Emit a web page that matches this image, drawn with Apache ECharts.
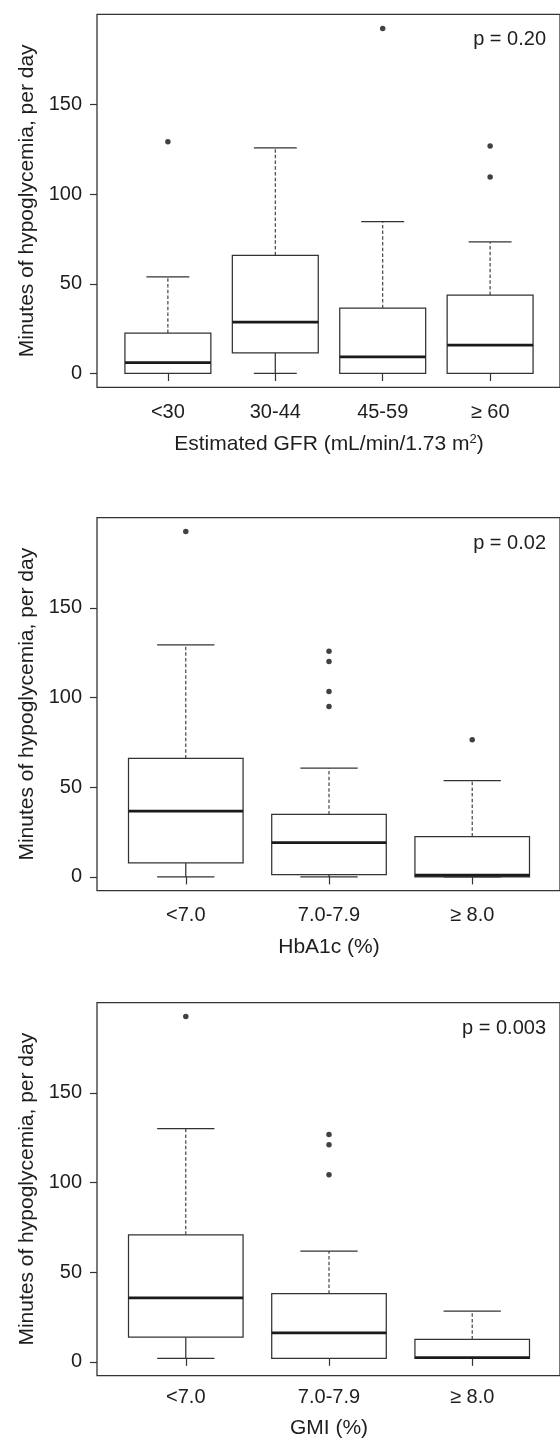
<!DOCTYPE html>
<html><head><meta charset="utf-8">
<script src="https://cdn.jsdelivr.net/npm/echarts@6/dist/echarts.min.js"></script>
<style>html,body{margin:0;padding:0;background:#fff}#c{width:560px;height:1440px}</style>
</head><body><div id="c"></div>
<script>
// ---------- data ----------
const gfrCategories = ['<30', '30-44', '45-59', '\u2265 60'];
const gfrLower  = [0, 0, 0, 0];
const gfrQ1     = [0, 11.5, 0, 0];
const gfrMedian = [6.1, 28.6, 9.3, 15.8];
const gfrQ3     = [22.5, 65.9, 36.4, 43.7];
const gfrUpper  = [53.9, 125.7, 84.7, 73.3];
const gfrOutlierCat = ['<30', '45-59', '\u2265 60', '\u2265 60'];
const gfrOutlierVal = [129.2, 192.3, 126.8, 109.5];

const hbaCategories = ['<7.0', '7.0-7.9', '\u2265 8.0'];
const hbaLower  = [0, 0, 0];
const hbaQ1     = [7.8, 1.3, 0];
const hbaMedian = [36.6, 19.1, 0.9];
const hbaQ3     = [66.0, 34.8, 22.5];
const hbaUpper  = [129.3, 60.6, 53.7];
const hbaOutlierCat = ['<7.0', '7.0-7.9', '7.0-7.9', '7.0-7.9', '7.0-7.9', '\u2265 8.0'];
const hbaOutlierVal = [192.5, 125.8, 120.1, 103.3, 95.0, 76.4];

const gmiCategories = ['<7.0', '7.0-7.9', '\u2265 8.0'];
const gmiLower  = [0, 0, 0];
const gmiQ1     = [11.9, 0, 0];
const gmiMedian = [34.0, 14.3, 0.4];
const gmiQ3     = [69.5, 36.4, 10.6];
const gmiUpper  = [129.3, 60.4, 26.6];
const gmiOutlierCat = ['<7.0', '7.0-7.9', '7.0-7.9', '7.0-7.9'];
const gmiOutlierVal = [192.5, 126.0, 120.2, 103.3];

const yTickValues = [0, 50, 100, 150];
const pLabels = ['p = 0.20', 'p = 0.02', 'p = 0.003'];
const xTitles = ['Estimated GFR (mL/min/1.73 m{sup|2})', 'HbA1c (%)', 'GMI (%)'];
const yTitle = 'Minutes of hypoglycemia, per day';

// ---------- build ----------
const panels = [
  {cats: gfrCategories, lo: gfrLower, q1: gfrQ1, md: gfrMedian, q3: gfrQ3, hi: gfrUpper, oc: gfrOutlierCat, ov: gfrOutlierVal},
  {cats: hbaCategories, lo: hbaLower, q1: hbaQ1, md: hbaMedian, q3: hbaQ3, hi: hbaUpper, oc: hbaOutlierCat, ov: hbaOutlierVal},
  {cats: gmiCategories, lo: gmiLower, q1: gmiQ1, md: gmiMedian, q3: gmiQ3, hi: gmiUpper, oc: gmiOutlierCat, ov: gmiOutlierVal}
];

let allVals = [];
panels.forEach(p => { allVals = allVals.concat(p.lo, p.q1, p.md, p.q3, p.hi, p.ov); });
const dMin = Math.min(...allVals), dMax = Math.max(...allVals);
const pad = (dMax - dMin) * 0.04;
const yMin = dMin - pad, yMax = dMax + pad;

const FONT = "'Liberation Sans', Arial, Helvetica, sans-serif";
const INK = '#1e1e1e';
const LINE = '#333';
const frameLeft = 97, frameWidth = 464;
const innerLeft = frameLeft + frameWidth * 0.04 / 1.08;
const innerWidth = frameWidth / 1.08;
const panelTops = [14.3, 517.7, 1002.7];
const panelHeight = 373;

function renderBox(params, api) {
  const i = api.value(0);
  const lo = api.coord([i, api.value(1)]);
  const q1 = api.coord([i, api.value(2)]);
  const md = api.coord([i, api.value(3)]);
  const q3 = api.coord([i, api.value(4)]);
  const hi = api.coord([i, api.value(5)]);
  const band = api.size([1, 0])[0];
  const bw = band * 0.8, cw = band * 0.4;
  const x = lo[0];
  const s = {stroke: LINE, lineWidth: 1.25};
  return {type: 'group', children: [
    {type: 'line', shape: {x1: x, y1: q3[1], x2: x, y2: hi[1]}, style: Object.assign({}, s, {lineWidth: 1.1, lineDash: [3.5, 2.2]})},
    {type: 'line', shape: {x1: x, y1: lo[1], x2: x, y2: q1[1]}, style: s},
    {type: 'line', shape: {x1: x - cw / 2, y1: hi[1], x2: x + cw / 2, y2: hi[1]}, style: s},
    {type: 'line', shape: {x1: x - cw / 2, y1: lo[1], x2: x + cw / 2, y2: lo[1]}, style: s},
    {type: 'rect', shape: {x: x - bw / 2, y: q3[1], width: bw, height: q1[1] - q3[1]}, style: Object.assign({fill: '#fff'}, s)},
    {type: 'line', shape: {x1: x - bw / 2, y1: md[1], x2: x + bw / 2, y2: md[1]}, style: {stroke: '#1a1a1a', lineWidth: 2.8}}
  ]};
}

const option = {animation: false, backgroundColor: '#fff', grid: [], xAxis: [], yAxis: [], series: [], graphic: []};

panels.forEach((p, k) => {
  const top = panelTops[k];
  const gFrame = 2 * k, gInner = 2 * k + 1;
  option.grid.push({left: frameLeft, width: frameWidth, top: top, height: panelHeight, show: true,
    borderColor: LINE, borderWidth: 1.3, backgroundColor: 'transparent', containLabel: false});
  option.grid.push({left: innerLeft, width: innerWidth, top: top, height: panelHeight, containLabel: false});

  option.xAxis.push({gridIndex: gFrame, type: 'value', min: 0, max: 1, show: false});
  option.xAxis.push({gridIndex: gInner, type: 'category', data: p.cats, boundaryGap: true,
    axisLine: {show: false},
    axisTick: {show: true, alignWithLabel: true, length: 7.5, lineStyle: {color: LINE, width: 1.2}},
    axisLabel: {fontSize: 20, color: INK, fontFamily: FONT, margin: 15, interval: 0},
    splitLine: {show: false},
    name: xTitles[k], nameLocation: 'middle', nameGap: 46,
    nameTextStyle: {fontSize: 21, color: INK, fontFamily: FONT,
      rich: {sup: {fontSize: 13, color: INK, fontFamily: FONT, verticalAlign: 'top', padding: [0, 0, 9, 0]}}}
  });

  option.yAxis.push({gridIndex: gFrame, type: 'value', min: yMin, max: yMax,
    axisLine: {show: false},
    axisTick: {show: true, customValues: yTickValues, length: 7, lineStyle: {color: LINE, width: 1.2}},
    axisLabel: {customValues: yTickValues, fontSize: 20, color: INK, fontFamily: FONT, margin: 15},
    splitLine: {show: false},
    name: yTitle, nameLocation: 'middle', nameRotate: 90, nameGap: 59,
    nameTextStyle: {fontSize: 21, color: INK, fontFamily: FONT}
  });
  option.yAxis.push({gridIndex: gInner, type: 'value', min: yMin, max: yMax, show: false});

  option.series.push({
    type: 'custom', xAxisIndex: gInner, yAxisIndex: gInner,
    renderItem: renderBox,
    encode: {x: 0, y: [1, 2, 3, 4, 5]},
    data: p.cats.map((c, i) => [i, p.lo[i], p.q1[i], p.md[i], p.q3[i], p.hi[i]]),
    z: 2
  });
  option.series.push({
    type: 'scatter', xAxisIndex: gInner, yAxisIndex: gInner,
    symbol: 'circle', symbolSize: 5.5, itemStyle: {color: '#111'},
    data: p.oc.map((c, i) => [c, p.ov[i]]),
    z: 3
  });

  option.graphic.push({type: 'text', x: 546, y: top + 25.5, z: 10,
    style: {text: pLabels[k], align: 'right', verticalAlign: 'middle', fontSize: 20, fontFamily: FONT, fill: INK}});
});

const chart = echarts.init(document.getElementById('c'));
chart.setOption(option);
</script>
</body></html>
